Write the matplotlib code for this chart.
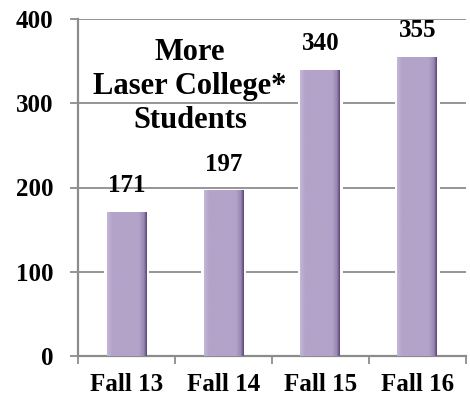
import matplotlib.pyplot as plt
import numpy as np
from matplotlib.colors import LinearSegmentedColormap

# chart data
terms = ['Fall 13', 'Fall 14', 'Fall 15', 'Fall 16']
students = [171, 197, 340, 355]
y_ticks = [0, 100, 200, 300, 400]

plt.rcParams['font.family'] = ['Liberation Serif', 'DejaVu Serif']
plt.rcParams['font.weight'] = 'bold'

fig = plt.figure(figsize=(4.7, 4.0), dpi=100)
ax = fig.add_axes([0.166, 0.11, 0.825, 0.8425])

x = np.arange(len(terms))
width = 0.41
bar_color = '#b3a3c9'

# white halo that cuts the gridlines around each bar
ax.bar(x, students, width=width + 0.05, color='white', edgecolor='none', zorder=2)

# shaded bars: light left edge, flat middle, dark right edge
shade = LinearSegmentedColormap.from_list(
    'shade', [(0.0, '#c4b6d6'), (0.12, bar_color), (0.8, bar_color),
              (0.93, '#9a87b4'), (1.0, '#5c4a78')])
grad = np.linspace(0, 1, 64).reshape(1, -1)
bars = ax.bar(x, students, width=width, color='none', edgecolor='none', zorder=3)
for b in bars:
    x0, y0 = b.get_x(), b.get_y()
    im = ax.imshow(grad, cmap=shade, aspect='auto', zorder=3,
                   extent=(x0, x0 + b.get_width(), y0, y0 + b.get_height()))
    im.set_clip_path(b)

for xi, v in zip(x, students):
    ax.annotate(str(v), (xi, v), xytext=(0, 14), textcoords='offset points',
                ha='center', va='baseline', fontsize=18, fontweight='bold')

ax.text(0.655, 320, 'More\nLaser College*\nStudents', ha='center', va='center',
        fontsize=22, fontweight='bold', linespacing=1.22, zorder=4)

ax.set_xlim(-0.5, len(terms) - 0.5)
ax.set_ylim(0, 400)
ax.set_yticks(y_ticks)
ax.set_xticks(x)
ax.set_xticklabels(terms)
ax.set_xticks(np.arange(len(terms) + 1) - 0.5, minor=True)
ax.yaxis.grid(True, color='#8c8c8c', linewidth=1.3, zorder=1)
ax.set_axisbelow(True)

for side in ['top', 'right']:
    ax.spines[side].set_visible(False)
for side in ['left', 'bottom']:
    ax.spines[side].set_color('#8c8c8c')
    ax.spines[side].set_linewidth(1.6)

ax.tick_params(axis='y', length=6, width=1.3, color='#8c8c8c', pad=12, labelsize=18)
ax.tick_params(axis='x', which='major', length=0, pad=12, labelsize=18)
ax.tick_params(axis='x', which='minor', length=6, width=1.3, color='#8c8c8c')
for lab in ax.get_xticklabels() + ax.get_yticklabels():
    lab.set_fontweight('bold')

fig.savefig('out.png', dpi=100)
